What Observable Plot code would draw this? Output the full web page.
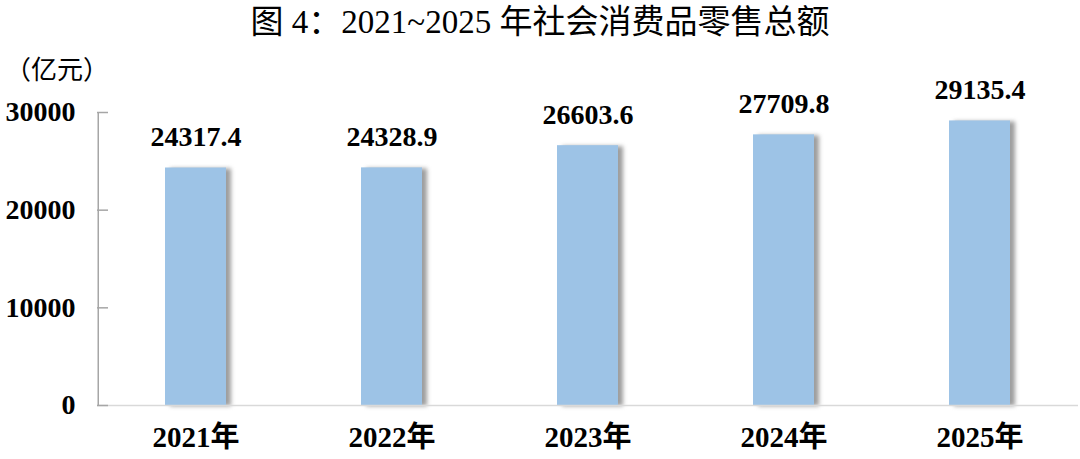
<!DOCTYPE html>
<html>
<head>
<meta charset="utf-8">
<script src="https://cdn.jsdelivr.net/npm/d3@7"></script>
<script src="https://cdn.jsdelivr.net/npm/@observablehq/plot@0.6"></script>
<style>
  html, body { margin: 0; padding: 0; background: #fff; }
  #wrap { position: relative; width: 1080px; height: 459px; overflow: hidden; }
  #title { position: absolute; left: 0; top: 2px; width: 1080px; text-align: center;
    font-family: "Liberation Serif", "Noto Sans CJK SC", serif; font-size: 33px; color: #000; line-height: 40px; }
  #unit { position: absolute; left: 5px; top: 54px;
    font-family: "Liberation Serif", "Noto Sans CJK SC", serif; font-size: 26px; color: #000; line-height: 34px; }
  #chart { position: absolute; left: 0; top: 50px; }
</style>
</head>
<body>
<div id="wrap">
  <div id="title">图 4：2021~2025 年社会消费品零售总额</div>
  <div id="unit">（亿元）</div>
  <div id="chart"></div>
</div>
<script>
const years = ["2021年", "2022年", "2023年", "2024年", "2025年"];
const values = [24317.4, 24328.9, 26603.6, 27709.8, 29135.4];
const yTicks = [0, 10000, 20000, 30000];

const data = years.map((year, i) => ({year, value: values[i]}));

const W = 1080, H = 409;
const mL = 97, mR = 2, mT = 62, mB = 54;
const font = `"Liberation Serif", "Noto Sans CJK SC", serif`;

const plot = Plot.plot({
  width: W,
  height: H,
  marginLeft: mL,
  marginRight: mR,
  marginTop: mT,
  marginBottom: mB,
  style: {fontFamily: font, background: "transparent", overflow: "visible"},
  x: {domain: years, paddingInner: 0.69, paddingOuter: 0.345, label: null},
  y: {domain: [0, 30000], label: null},
  marks: [
    // shadow
    Plot.barY(data, {x: "year", y: "value", fill: "#8c8c8c", dx: 5, dy: 1, fillOpacity: 0.85}),
    Plot.barY(data, {x: "year", y: "value", fill: "#9dc3e6"}),
    Plot.ruleY([0], {stroke: "#d9d9d9", strokeWidth: 1.5}),
    Plot.frame({fill: "#a6a6a6", stroke: null, insetRight: W - mL - mR - 1.5}),
    Plot.ruleY(yTicks, {stroke: "#a6a6a6", strokeWidth: 1.5, insetRight: W - mL - mR - 11}),
    Plot.axisY({ticks: yTicks, tickSize: 0, tickPadding: 22, tickFormat: d => String(d),
      fontSize: 28, fontWeight: "bold", fill: "#000", label: null}),
    Plot.axisX({tickSize: 0, tickPadding: 21, fontSize: 29, fontWeight: "bold", fill: "#000", label: null}),
    Plot.text(data, {x: "year", y: "value", text: d => d.value.toFixed(1), dy: -31,
      fontSize: 28, fontWeight: "bold", fill: "#000"})
  ]
});

// soften the bar shadows
const bars = plot.querySelectorAll('g[aria-label="bar"]');
if (bars.length) bars[0].style.filter = "blur(2px)";

document.getElementById("chart").appendChild(plot);
</script>
</body>
</html>
